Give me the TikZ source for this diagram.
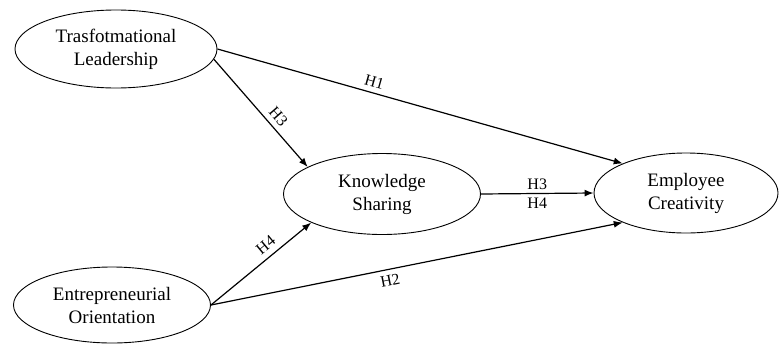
\documentclass[tikz,border=0pt]{standalone}
\usepackage{fontspec}
\setmainfont{Liberation Serif}
\usetikzlibrary{shapes.geometric,arrows.meta}
\begin{document}
\begin{tikzpicture}[x=1pt,y=-1pt,
  var/.style={ellipse,draw,line width=0.9pt,inner sep=0pt,align=center,font=\fontsize{19}{23}\selectfont},
  link/.style={line width=1.2pt,-{Latex[length=9pt,width=7pt]}},
  hlab/.style={font=\fontsize{16}{18}\selectfont,inner sep=5pt}]
\useasboundingbox (0,0) rectangle (781,343);
\node[var,minimum width=202pt,minimum height=78pt] (tl) at (116,49) {Trasfotmational\\Leadership};
\node[var,minimum width=197pt,minimum height=81pt] (ks) at (382,194) {Knowledge\\Sharing};
\node[var,minimum width=184pt,minimum height=80pt] (ec) at (686,193) {Employee\\Creativity};
\node[var,minimum width=197pt,minimum height=76pt] (eo) at (112,305) {Entrepreneurial\\Orientation};

\draw[link] (tl.east) -- node[hlab,pos=0.38,sloped,above] (h1) {H1} (ec.155);
\draw[link] (tl.-6) -- node[hlab,pos=0.6,sloped,above] (h3a) {H3} (ks.160);
\draw[link] (ks.east) -- node[hlab,above,inner sep=3pt] (h3b) {H3} node[hlab,below,inner sep=4pt] (h4b) {H4} (ec.west);
\draw[link] (eo.east) -- node[hlab,pos=0.62,sloped,above,inner sep=6pt] (h4a) {H4} (ks.202);
\draw[link] (eo.east) -- node[hlab,pos=0.43,sloped,below] (h2) {H2} (ec.205);
\end{tikzpicture}
\end{document}
